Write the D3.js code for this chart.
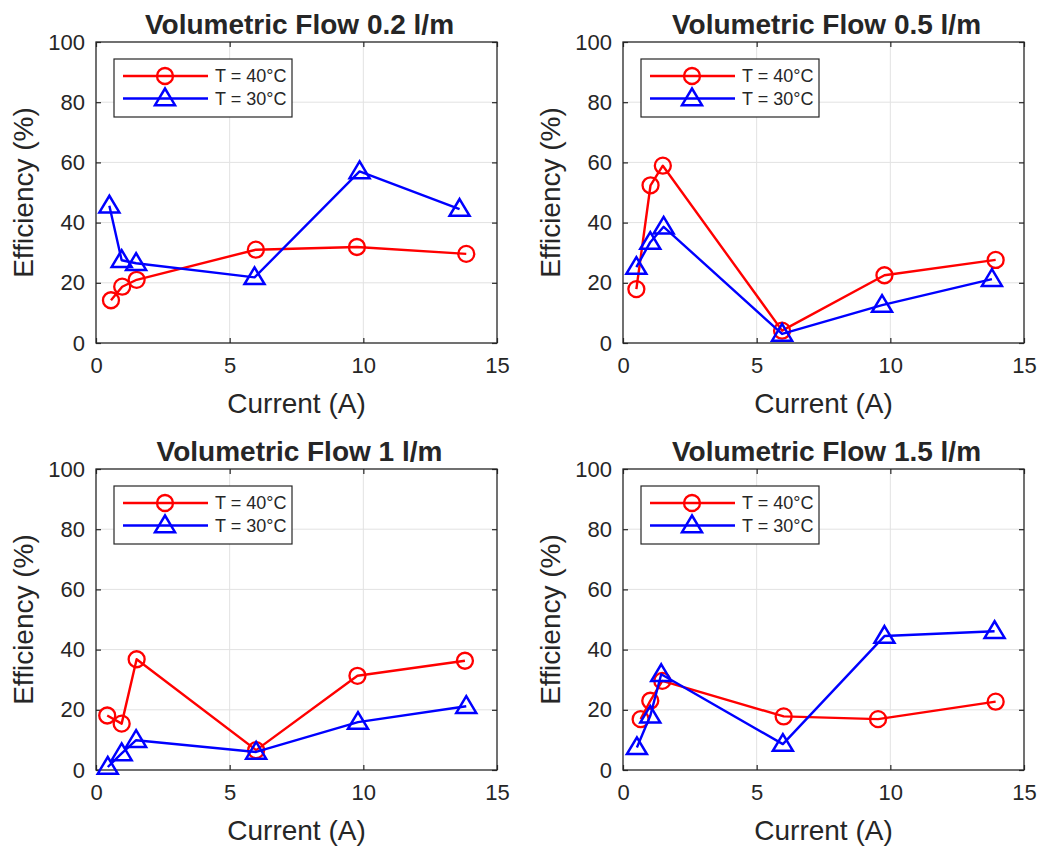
<!DOCTYPE html>
<html>
<head>
<meta charset="utf-8">
<script src="https://cdn.jsdelivr.net/npm/d3@7"></script>
<style>
  html, body { margin: 0; padding: 0; background: #ffffff; }
  svg { display: block; }
  text { font-family: "Liberation Sans", Arial, sans-serif; fill: #262626; }
</style>
</head>
<body>
<svg id="fig" width="1043" height="848"></svg>
<script>
// Efficiency vs current, four volumetric flow rates, two temperatures
const panelTitles = ["Volumetric Flow 0.2 l/m", "Volumetric Flow 0.5 l/m",
                     "Volumetric Flow 1 l/m", "Volumetric Flow 1.5 l/m"];
const seriesNames = ["T = 40°C", "T = 30°C"];
const xTicks = [0, 5, 10, 15];
const yTicks = [0, 20, 40, 60, 80, 100];

// T = 40°C : [current (A), efficiency (%)]
const flow02_T40 = [[0.56, 14.2], [0.98, 18.7], [1.52, 21.0], [5.98, 31.0], [9.76, 31.9], [13.85, 29.6]];
const flow05_T40 = [[0.50, 17.9], [1.03, 52.4], [1.49, 58.9], [5.95, 4.1], [9.78, 22.5], [13.94, 27.6]];
const flow10_T40 = [[0.42, 18.1], [0.96, 15.4], [1.52, 36.8], [5.99, 6.6], [9.78, 31.3], [13.80, 36.3]];
const flow15_T40 = [[0.66, 16.9], [1.02, 23.0], [1.47, 29.6], [6.01, 17.8], [9.54, 16.9], [13.94, 22.7]];

// T = 30°C : [current (A), efficiency (%)]
const flow02_T30 = [[0.50, 45.6], [0.96, 27.5], [1.50, 26.5], [5.93, 21.8], [9.86, 57.0], [13.60, 44.5]];
const flow05_T30 = [[0.50, 25.2], [1.02, 33.5], [1.52, 38.6], [5.95, 3.0], [9.69, 12.6], [13.80, 21.2]];
const flow10_T30 = [[0.44, 1.0], [0.96, 5.5], [1.50, 9.9], [5.99, 6.0], [9.80, 15.9], [13.85, 21.2]];
const flow15_T30 = [[0.52, 7.5], [1.02, 18.0], [1.43, 31.8], [5.98, 8.6], [9.78, 44.5], [13.90, 46.1]];

const panelsT40 = [flow02_T40, flow05_T40, flow10_T40, flow15_T40];
const panelsT30 = [flow02_T30, flow05_T30, flow10_T30, flow15_T30];

const colors = ["#ff0000", "#0000ff"];

// axes placement (left, top) for the 2x2 grid
const origins = [[96, 42], [623, 42], [96, 469], [623, 469]];
const W = 401, H = 301;

const svg = d3.select("#fig");

const circleSym = d3.symbol().type(d3.symbolCircle).size(Math.PI * 8 * 8);
// upward triangle, with the data point sitting slightly below its centre of height
const triPath = "M0,-10L10,6.7L-10,6.7Z";

function drawMarker(g, kind, color) {
  if (kind === 0) {
    g.append("path").attr("d", circleSym())
      .attr("fill", "none").attr("stroke", color).attr("stroke-width", 2.3);
  } else {
    g.append("path").attr("d", triPath)
      .attr("fill", "none").attr("stroke", color).attr("stroke-width", 2.5)
      .attr("stroke-linejoin", "miter");
  }
}

panelTitles.forEach((title, i) => {
  const [ox, oy] = origins[i];
  const g = svg.append("g").attr("transform", `translate(${ox},${oy})`);
  const x = d3.scaleLinear().domain([0, 15]).range([0, W]);
  const y = d3.scaleLinear().domain([0, 100]).range([H, 0]);

  // grid
  g.append("g").selectAll("line").data(xTicks.slice(1, -1)).join("line")
    .attr("x1", d => x(d)).attr("x2", d => x(d)).attr("y1", 0).attr("y2", H)
    .attr("stroke", "#e2e2e2").attr("stroke-width", 1);
  g.append("g").selectAll("line").data(yTicks.slice(1, -1)).join("line")
    .attr("y1", d => y(d)).attr("y2", d => y(d)).attr("x1", 0).attr("x2", W)
    .attr("stroke", "#e2e2e2").attr("stroke-width", 1);

  // axes with inward ticks on all four sides
  const axStyle = sel => {
    sel.select(".domain").remove();
    sel.selectAll(".tick line").attr("stroke", "#262626").attr("stroke-width", 1.2);
    sel.selectAll("text").style("font-size", "22px").attr("fill", "#262626");
  };
  g.append("g").attr("transform", `translate(0,${H})`)
    .call(d3.axisBottom(x).tickValues(xTicks).tickSize(-5).tickPadding(14).tickFormat(d3.format("d")))
    .call(axStyle);
  g.append("g")
    .call(d3.axisTop(x).tickValues(xTicks).tickSize(-5).tickFormat(""))
    .call(axStyle);
  g.append("g")
    .call(d3.axisLeft(y).tickValues(yTicks).tickSize(-5).tickPadding(11).tickFormat(d3.format("d")))
    .call(axStyle);
  g.append("g").attr("transform", `translate(${W},0)`)
    .call(d3.axisRight(y).tickValues(yTicks).tickSize(-5).tickFormat(""))
    .call(axStyle);

  g.append("rect").attr("width", W).attr("height", H)
    .attr("fill", "none").attr("stroke", "#262626").attr("stroke-width", 1.3);

  // series
  const line = d3.line().x(d => x(d[0])).y(d => y(d[1]));
  [panelsT40[i], panelsT30[i]].forEach((data, s) => {
    g.append("path").datum(data).attr("d", line)
      .attr("fill", "none").attr("stroke", colors[s]).attr("stroke-width", 2.4)
      .attr("stroke-linejoin", "round");
    data.forEach(d => {
      const m = g.append("g").attr("transform", `translate(${x(d[0])},${y(d[1])})`);
      drawMarker(m, s, colors[s]);
    });
  });

  // title and axis labels
  g.append("text").attr("x", W / 2 + 3).attr("y", -8)
    .attr("text-anchor", "middle").style("font-size", "28px").style("font-weight", "bold")
    .attr("fill", "#000").text(title);
  g.append("text").attr("x", W / 2).attr("y", H + 70)
    .attr("text-anchor", "middle").style("font-size", "28px").text("Current (A)");
  g.append("text").attr("transform", `translate(${-63},${H / 2}) rotate(-90)`)
    .attr("text-anchor", "middle").style("font-size", "28px").text("Efficiency (%)");

  // legend
  const lg = g.append("g").attr("transform", "translate(18,17)");
  lg.append("rect").attr("width", 178).attr("height", 58)
    .attr("fill", "#fff").attr("stroke", "#262626").attr("stroke-width", 1.2);
  seriesNames.forEach((name, s) => {
    const ly = 17 + s * 22.5;
    lg.append("line").attr("x1", 9).attr("x2", 94).attr("y1", ly).attr("y2", ly)
      .attr("stroke", colors[s]).attr("stroke-width", 2.4);
    const m = lg.append("g").attr("transform", `translate(51,${ly})`);
    drawMarker(m, s, colors[s]);
    lg.append("text").attr("x", 101).attr("y", ly + 6)
      .style("font-size", "18px").attr("fill", "#000").text(name);
  });
});
</script>
</body>
</html>
